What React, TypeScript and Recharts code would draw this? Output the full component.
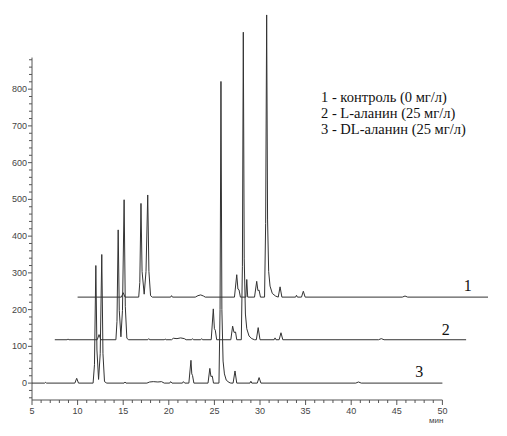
import { Line, LineChart, ReferenceLine, XAxis, YAxis } from "recharts";

type Pt = [number, number];

// retention time (min), signal above own baseline
const TRACE_3: Pt[] = [
  [5, 0], [6.4, 0], [6.5, 2], [6.6, 0], [9.7, 0], [9.9, 13], [10.1, 0],
  [11.7, 0], [11.85, 50], [12.0, 320], [12.12, 90], [12.3, 10], [12.48, 80],
  [12.65, 350], [12.78, 80], [12.95, 4], [13.2, 0],
  [15.1, 0], [15.2, 3], [15.3, 0],
  [17.6, 0], [17.9, 3], [18.3, 4], [18.8, 3], [19.2, 4], [19.5, 0],
  [20.1, 0], [20.2, 4], [20.35, 0], [21.5, 0], [21.6, 4], [21.75, 0],
  [22.2, 0], [22.43, 62], [22.52, 25], [22.6, 21], [22.75, 0],
  [24.3, 0], [24.5, 40], [24.62, 18], [24.77, 19], [24.9, 0],
  [25.5, 0], [25.62, 200], [25.72, 821], [25.82, 200], [25.95, 60],
  [26.1, 25], [26.3, 8], [26.6, 2], [26.8, 0],
  [27.05, 0], [27.26, 33], [27.45, 0],
  [28.9, 0], [29.0, 5], [29.1, 0], [29.7, 0], [29.9, 15], [30.1, 0],
  [40.5, 0], [40.8, 3], [41.1, 0], [50, 0],
];

const TRACE_2: Pt[] = [
  [5, 0], [6.35, 0], [6.45, 2], [6.55, 0], [9.65, 0], [9.85, 14], [10.05, 0],
  [11.7, 0], [11.82, 50], [11.95, 299], [12.07, 80], [12.25, 8], [12.42, 80],
  [12.6, 381], [12.73, 90], [12.9, 4], [13.1, 0],
  [15.2, 0], [15.3, 3], [15.4, 0], [17.0, 0], [17.1, 2], [17.2, 0],
  [17.8, 0], [18.0, 4], [18.4, 3], [18.8, 5], [19.2, 3], [19.4, 0],
  [20.0, 0], [20.1, 3], [20.2, 0], [21.0, 0], [21.1, 3], [21.2, 0],
  [22.15, 0], [22.38, 84], [22.5, 30], [22.6, 26], [22.75, 0],
  [24.3, 0], [24.5, 37], [24.65, 20], [24.82, 21], [24.95, 0],
  [25.45, 0], [25.57, 200], [25.67, 837], [25.77, 220], [25.9, 70],
  [26.05, 30], [26.3, 10], [26.6, 3], [26.9, 0],
  [27.1, 0], [27.3, 33], [27.5, 0],
  [29.05, 0], [29.15, 5], [29.25, 0], [29.6, 0], [29.8, 19], [30.0, 0],
  [40.5, 0], [40.8, 3], [41.1, 0], [50.1, 0],
];

const TRACE_1: Pt[] = [
  [5, 0], [9.8, 0], [10.0, 12], [10.2, 0],
  [11.7, 0], [11.82, 40], [11.95, 255], [12.07, 70], [12.3, 8], [12.5, 70],
  [12.69, 278], [12.82, 70], [13.0, 4], [13.2, 0],
  [15.2, 0], [15.3, 4], [15.4, 0],
  [17.9, 0], [18.2, 4], [18.5, 6], [18.8, 3], [19.0, 0],
  [22.2, 0], [22.45, 61], [22.58, 22], [22.7, 20], [22.85, 0],
  [23.45, 0], [23.55, 48], [23.65, 0],
  [24.4, 0], [24.64, 43], [24.77, 18], [24.9, 19], [25.05, 0],
  [25.5, 0], [25.62, 200], [25.73, 768], [25.83, 210], [25.95, 70],
  [26.1, 30], [26.35, 10], [26.7, 3], [27.0, 0],
  [27.0, 0], [27.2, 28], [27.4, 0],
  [28.9, 0], [29.0, 5], [29.1, 0], [29.55, 0], [29.75, 16], [29.95, 0],
  [40.6, 0], [40.9, 3], [41.2, 0], [50, 0],
];

// stacked display: time shift (min) and vertical offset per trace
const TIME_SHIFT = { s1: 5, s2: 2.5, s3: 0 };
const LEVEL = { s1: 234, s2: 118, s3: 0 };

const X_MAJOR = [5, 10, 15, 20, 25, 30, 35, 40, 45, 50];
const Y_MAJOR = [0, 100, 200, 300, 400, 500, 600, 700, 800];
const LEGEND = [
  "1 - контроль (0 мг/л)",
  "2 - L-аланин (25 мг/л)",
  "3 - DL-аланин (25 мг/л)",
];

const Y_MIN = -46;
const Y_AXIS_TOP = 886;

function buildRows() {
  const rows: Record<string, number>[] = [];
  const add = (pts: Pt[], key: "s1" | "s2" | "s3") =>
    pts.forEach(([t, v]) =>
      rows.push({ x: t + TIME_SHIFT[key], [key]: v + LEVEL[key] }),
    );
  add(TRACE_3, "s3");
  add(TRACE_2, "s2");
  add(TRACE_1, "s1");
  return rows.sort((a, b) => a.x - b.x);
}

const xTicks: number[] = [];
for (let t = X_MAJOR[0]; t <= X_MAJOR[X_MAJOR.length - 1]; t++) xTicks.push(t);
const yTicks: number[] = [];
for (let v = -40; v <= 880; v += 20) yTicks.push(v);

const axisColor = "#555";
const tickFont = "'Liberation Sans', Arial, sans-serif";

function XTick({ x, y, payload }: any) {
  const major = X_MAJOR.includes(payload.value);
  return (
    <g>
      <line x1={x} x2={x} y1={y} y2={y + (major ? 5 : 3)} stroke={axisColor} />
      {major && (
        <text x={x} y={y + 13.5} textAnchor="middle" fontSize={9} fill="#444" fontFamily={tickFont}>
          {payload.value}
        </text>
      )}
    </g>
  );
}

function YTick({ x, y, payload }: any) {
  const major = Y_MAJOR.includes(payload.value);
  return (
    <g>
      <line x1={x - (major ? 4 : 3)} x2={x} y1={y} y2={y} stroke={axisColor} />
      {major && (
        <text x={x - 5} y={y + 3} textAnchor="end" fontSize={9} fill="#444" fontFamily={tickFont}>
          {payload.value}
        </text>
      )}
    </g>
  );
}

export default function App() {
  const rows = buildRows();
  const serif = "'Liberation Serif', 'Times New Roman', serif";
  return (
    <div style={{ position: "absolute", left: 0, top: 0, width: 507, height: 436, background: "#fff" }}>
      <LineChart
        width={507}
        height={436}
        data={rows}
        margin={{ top: 12, right: 19, bottom: 0, left: 0 }}
      >
        <XAxis
          type="number"
          dataKey="x"
          domain={[5, 55]}
          ticks={xTicks}
          interval={0}
          axisLine={false}
          tickLine={false}
          tickSize={0}
          tickMargin={0}
          height={36}
          tick={<XTick />}
        />
        <YAxis
          type="number"
          domain={[Y_MIN, 1010]}
          ticks={yTicks}
          interval={0}
          axisLine={false}
          tickLine={false}
          tickSize={0}
          tickMargin={0}
          width={32}
          tick={<YTick />}
        />
        <ReferenceLine
          segment={[{ x: 5, y: Y_MIN }, { x: 50, y: Y_MIN }]}
          stroke={axisColor}
        />
        <ReferenceLine
          segment={[{ x: 5, y: Y_MIN }, { x: 5, y: Y_AXIS_TOP }]}
          stroke={axisColor}
        />
        {(["s3", "s2", "s1"] as const).map((k) => (
          <Line
            key={k}
            type="linear"
            dataKey={k}
            stroke="#333"
            strokeWidth={1}
            dot={false}
            connectNulls
            isAnimationActive={false}
          />
        ))}
      </LineChart>
      <div style={{ position: "absolute", left: 429, top: 416, fontSize: 8, lineHeight: "9px", fontFamily: tickFont, color: "#444" }}>
        мин
      </div>
      <div style={{ position: "absolute", left: 321, top: 89, fontFamily: serif, fontSize: 14.5, lineHeight: "16px", color: "#111", whiteSpace: "nowrap" }}>
        {LEGEND.map((s) => (
          <div key={s}>{s}</div>
        ))}
      </div>
      {[
        { n: "1", x: 467.7, y: 286 },
        { n: "2", x: 445.7, y: 330 },
        { n: "3", x: 419.3, y: 372 },
      ].map((l) => (
        <div
          key={l.n}
          style={{ position: "absolute", left: l.x, top: l.y, transform: "translate(-50%, -50%)", fontFamily: serif, fontSize: 16, lineHeight: "16px", color: "#111" }}
        >
          {l.n}
        </div>
      ))}
    </div>
  );
}
